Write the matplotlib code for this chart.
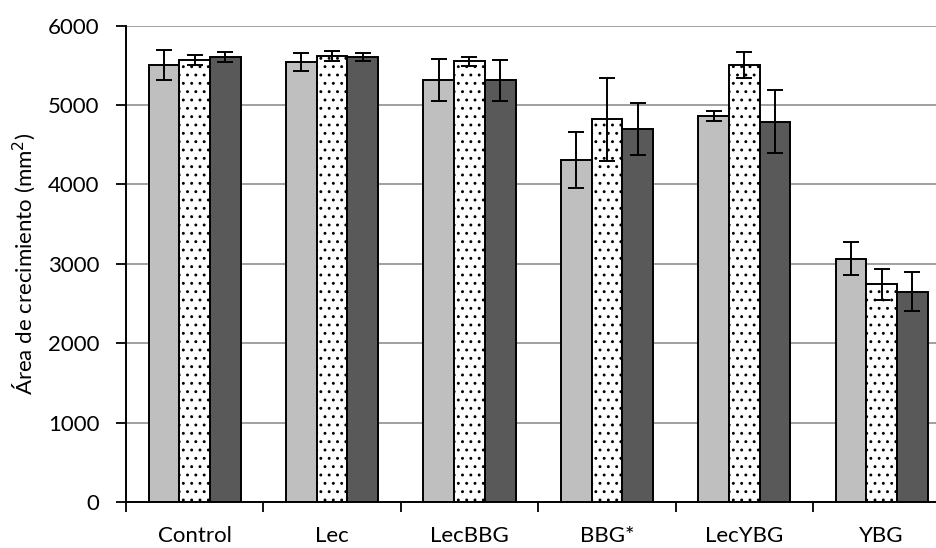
import numpy as np
import matplotlib
matplotlib.use("Agg")
import matplotlib.pyplot as plt
from matplotlib.ticker import FixedLocator

plt.rcParams['font.family'] = ['Lato', 'DejaVu Sans']
plt.rcParams['hatch.linewidth'] = 0.9

categories = ["Control", "Lec", "LecBBG", "BBG*", "LecYBG", "YBG"]

serie_1 = [5500, 5540, 5315, 4310, 4865, 3065]
serie_1_err = [190, 110, 265, 350, 65, 210]

serie_2 = [5565, 5615, 5550, 4820, 5505, 2740]
serie_2_err = [60, 60, 55, 520, 160, 200]

serie_3 = [5605, 5600, 5310, 4700, 4790, 2650]
serie_3_err = [65, 50, 262, 330, 400, 250]

y_ticks = [0, 1000, 2000, 3000, 4000, 5000, 6000]
y_label = "Área de crecimiento (mm$^2$)"

W, H = 937, 548
fig = plt.figure(figsize=(W / 100, H / 100), dpi=100)
ax = fig.add_axes([126 / W, 46 / H, 824.4 / W, 476.4 / H])

x = np.arange(len(categories))
bw = 0.2233
styles = [
    dict(color="#BFBFBF", hatch=None),
    dict(color="white", hatch=".."),
    dict(color="#595959", hatch=None),
]
series = [(serie_1, serie_1_err), (serie_2, serie_2_err), (serie_3, serie_3_err)]

for i, ((vals, errs), st) in enumerate(zip(series, styles)):
    pos = x + (i - 1) * bw
    ax.bar(pos, vals, width=bw, color=st["color"], edgecolor="black",
           linewidth=1.4, hatch=st["hatch"], zorder=2)
    ax.errorbar(pos, vals, yerr=errs, fmt="none", ecolor="black",
                elinewidth=1.4, capsize=5.5, capthick=1.4, zorder=3)

ax.set_xlim(-0.5, len(categories) - 0.5)
ax.set_ylim(0, 6000)
ax.set_yticks(y_ticks)
ax.set_yticklabels([str(t) for t in y_ticks])

ax.set_xticks(x)
ax.set_xticklabels(categories)
ax.xaxis.set_minor_locator(FixedLocator(np.arange(-0.5, len(categories), 1.0)))
ax.tick_params(axis="x", which="major", length=0, pad=17.5, labelsize=16)
ax.tick_params(axis="x", which="minor", length=7, width=1.3, direction="out")
ax.tick_params(axis="y", which="major", length=7, width=1.3, direction="out",
               pad=12, labelsize=16)

ax.yaxis.grid(True, color="#A0A0A0", linewidth=1.4, zorder=0)
ax.set_axisbelow(True)

for s in ["top", "right"]:
    ax.spines[s].set_visible(False)
for s in ["left", "bottom"]:
    ax.spines[s].set_linewidth(1.4)
    ax.spines[s].set_zorder(4)

ax.set_ylabel(y_label, fontsize=16)
ax.yaxis.set_label_coords(-0.107, 0.5)

fig.savefig("out.png", dpi=100)
